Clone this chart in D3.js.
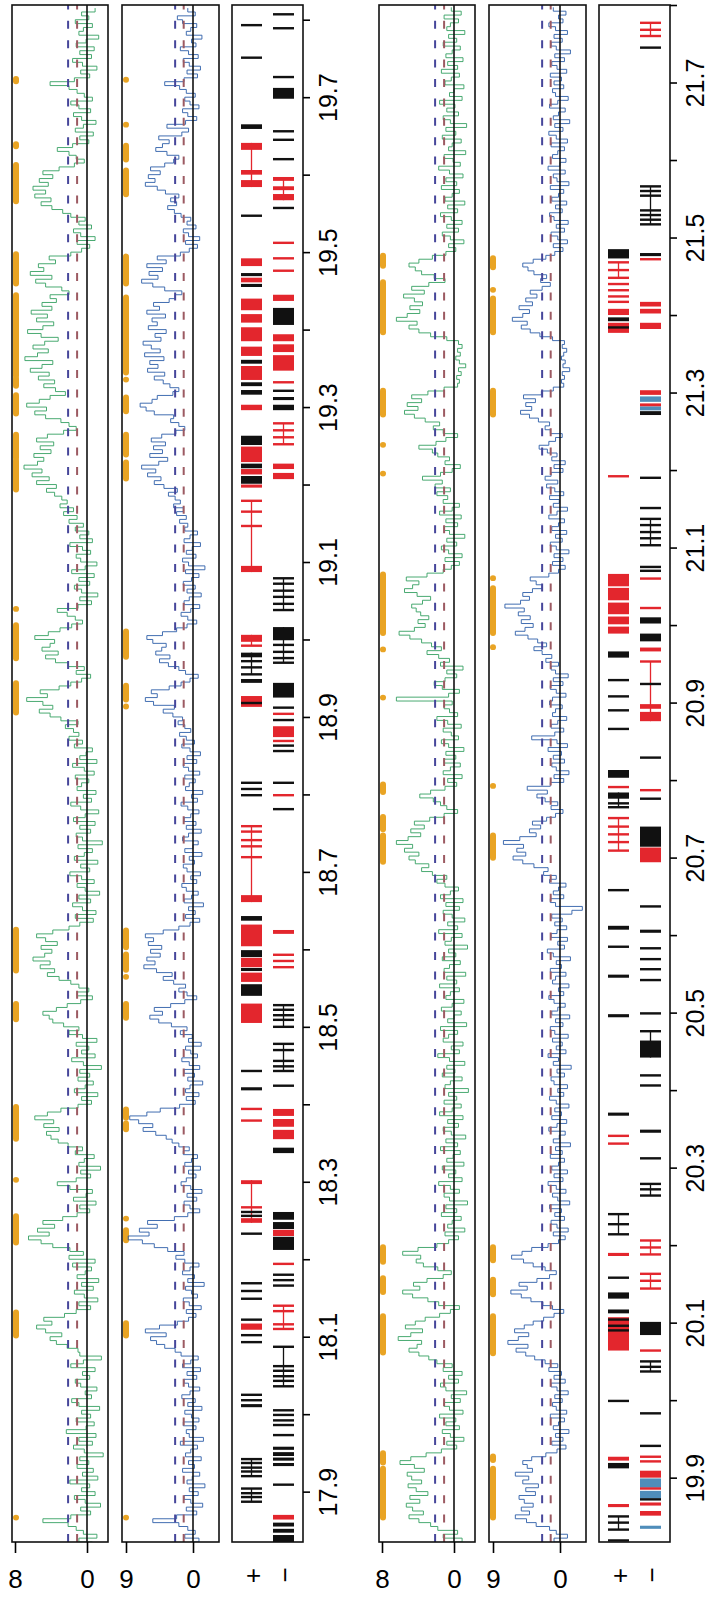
<!DOCTYPE html>
<html>
<head>
<meta charset="utf-8">
<script src="https://cdn.jsdelivr.net/npm/d3@7"></script>
<style>
  body { margin: 0; background: #fff; }
  text { font-family: "Liberation Sans", Arial, sans-serif; }
</style>
</head>
<body>
<svg id="chart" width="710" height="1599"></svg>
<script>
// ---- data ----
var step = 0.005;                       // Mb between trace samples
var leftDomain = [17.835, 19.819];
var rightDomain = [19.817, 21.800];

var tickPosLeft = [17.9, 18.0, 18.1, 18.2, 18.3, 18.4, 18.5, 18.6, 18.7, 18.8, 18.9, 19.0, 19.1, 19.2, 19.3, 19.4, 19.5, 19.6, 19.7, 19.8];
var tickLabLeft = [17.9, 18.1, 18.3, 18.5, 18.7, 18.9, 19.1, 19.3, 19.5, 19.7];
var tickPosRight = [19.9, 20.0, 20.1, 20.2, 20.3, 20.4, 20.5, 20.6, 20.7, 20.8, 20.9, 21.0, 21.1, 21.2, 21.3, 21.4, 21.5, 21.6, 21.7, 21.8];
var tickLabRight = [19.9, 20.1, 20.3, 20.5, 20.7, 20.9, 21.1, 21.3, 21.5, 21.7];

var greenTicks = [8, 0], blueTicks = [9, 0];
var greenCuts = [2.1, 1.1], blueCuts = [2.4, 1.25];

var greenLeft = [-0.6,0.9,-1.1,0.4,1.2,2.1,4.9,1.8,-0.4,0.7,-1.5,0.2,1.4,-0.9,0.6,-0.3,1.9,-1.2,0.5,-0.7,
 1.1,-0.2,0.8,-1.8,0.3,1.5,-0.6,0.9,-1.0,2.3,0.1,-0.8,1.2,-0.4,0.6,-1.4,0.9,1.7,-0.5,0.2,
 -1.1,0.7,1.3,-0.3,0.5,-0.9,1.8,0.4,-1.6,0.8,1.0,2.2,3.4,4.1,2.8,4.6,5.6,3.9,4.8,2.5,
 1.2,-0.4,0.9,-1.2,0.3,1.4,-0.7,0.6,-1.3,1.1,0.2,-0.5,1.6,-0.9,2.0,0.4,1.9,3.8,5.1,6.5,
 4.2,5.5,3.6,4.9,2.7,1.1,-0.3,0.8,-1.0,1.5,0.1,-0.6,1.9,3.3,1.2,-0.4,0.7,-1.5,0.9,0.3,
 -0.8,1.3,0.5,2.1,3.2,4.0,4.5,3.1,4.8,3.7,5.8,4.4,2.9,1.0,-0.5,0.6,-1.2,1.4,0.2,-0.7,
 1.0,-0.3,0.8,-1.6,0.4,1.7,-0.9,0.6,-0.2,1.2,-1.1,0.5,2.0,0.9,2.6,3.8,4.2,4.9,3.4,2.2,
 0.7,-0.6,1.1,-0.2,0.9,1.8,3.1,4.4,3.6,5.2,4.1,6.0,4.7,3.9,5.1,3.3,4.6,5.6,3.8,2.0,
 0.8,-0.7,1.3,-1.0,0.5,1.6,-0.4,0.9,-1.4,0.2,1.1,-0.8,0.6,1.9,-0.3,0.7,-1.2,1.4,0.3,-0.6,
 1.0,-1.7,0.5,1.2,-0.4,0.8,-0.9,1.5,0.2,-1.3,0.7,1.8,-0.5,0.4,-1.0,1.1,0.6,-0.2,1.3,-0.8,
 0.3,1.6,-1.1,0.8,0.1,-0.6,1.4,0.5,2.0,0.9,1.5,2.4,1.0,2.9,4.1,5.3,3.8,4.9,6.7,4.4,
 5.2,3.1,1.8,0.6,-0.4,1.2,0.3,2.1,3.5,4.6,3.2,5.0,4.1,3.6,5.8,4.3,3.0,1.7,0.5,1.3,
 2.2,3.3,1.0,-0.5,0.8,-1.2,0.6,1.4,-0.3,0.9,-0.8,1.7,0.2,-1.1,0.7,1.2,-0.4,0.5,1.9,-0.6,
 0.8,-0.2,1.3,0.4,2.0,1.1,2.6,1.5,3.0,2.2,2.8,3.6,4.5,3.4,5.6,4.2,6.1,5.0,7.0,5.5,
 4.8,5.9,4.0,5.2,3.7,5.6,4.4,2.6,1.2,2.0,2.9,4.6,5.8,4.5,6.7,5.3,4.1,2.4,3.5,4.8,
 3.6,5.4,4.2,6.3,5.0,3.8,6.9,5.5,4.3,6.0,4.7,3.2,5.1,6.6,4.9,3.7,5.6,4.4,6.2,3.9,
 5.0,3.4,4.1,2.0,2.8,4.6,5.7,3.9,6.3,4.8,5.4,3.5,4.2,1.8,0.6,-0.3,1.1,-0.9,0.7,1.5,
 -0.5,0.9,0.2,1.8,2.7,3.9,5.1,4.0,5.8,4.6,6.0,4.3,5.3,3.8,4.9,3.1,1.4,0.3,1.2,2.0,
 3.3,1.6,-0.2,0.8,-0.7,1.3,0.4,-1.0,0.6,1.5,-0.4,0.9,1.8,-0.6,0.3,1.1,2.0,4.1,1.4,-0.3,
 0.7,-1.1,0.5,1.6,-0.5,0.8,-0.8,1.2,0.1,-1.3,0.9,0.4,-0.6,1.3,-0.2,0.6,-0.9];

var blueLeft = [0.4,-0.8,1.1,-0.3,0.7,1.9,5.4,2.2,-0.5,0.9,-1.3,0.3,1.2,-0.7,0.5,-1.6,0.8,0.1,-0.9,1.4,
 -0.2,0.6,-1.1,1.0,0.3,-0.6,1.7,-1.4,0.5,0.9,-0.4,1.3,-0.8,0.2,1.1,-1.2,0.7,-0.3,1.5,0.4,
 -0.9,0.6,1.2,-0.5,0.8,-1.0,1.4,0.3,-0.7,1.6,2.4,3.8,4.9,5.7,3.6,6.4,4.5,2.1,0.6,-0.4,
 0.9,-1.1,0.5,1.3,-0.6,0.2,1.0,-1.5,0.7,-0.2,1.4,0.4,-0.8,1.1,2.3,1.2,3.4,5.2,6.8,8.7,
 5.9,7.2,4.8,6.1,2.5,0.7,-0.9,0.4,1.2,-0.5,0.8,-1.2,0.3,1.6,0.9,-0.4,0.6,-1.0,1.1,0.2,
 -0.6,1.3,0.5,1.9,2.8,3.6,5.0,6.7,5.4,7.3,8.5,6.2,4.4,1.8,-0.3,0.9,-0.8,1.0,0.4,-1.3,
 0.7,-0.2,1.2,-0.9,0.5,1.5,-0.6,0.3,1.0,-1.1,0.6,0.1,1.7,0.8,2.9,4.6,5.8,4.1,5.2,3.0,
 1.1,-0.5,0.8,1.9,1.0,2.6,4.0,2.8,4.9,6.6,5.1,6.2,4.4,5.7,4.2,6.0,5.3,6.4,4.0,1.9,
 0.4,-0.9,1.0,-0.3,0.6,-1.4,1.2,0.2,-0.7,0.9,1.5,-0.5,0.3,-1.0,0.8,1.3,-0.2,0.5,-1.2,1.1,
 0.0,-0.7,1.4,0.6,-1.1,0.9,-0.4,1.2,0.3,-0.8,0.7,1.6,-0.6,0.2,-1.3,1.0,0.5,-0.3,1.1,-0.9,
 0.6,1.3,-0.5,0.8,-1.0,0.4,1.5,-0.2,0.9,1.8,0.3,1.1,2.0,1.4,2.7,4.0,2.5,5.3,6.4,4.8,
 5.6,3.2,1.6,0.4,-0.7,1.0,1.9,3.3,4.5,3.1,5.0,4.2,3.6,5.4,6.2,4.1,2.2,0.8,-0.5,0.7,
 1.6,0.3,-0.9,1.2,0.5,-1.1,0.8,-0.3,1.3,0.2,-0.8,1.0,-1.6,0.6,1.4,-0.4,0.9,0.1,-1.0,1.2,
 0.4,-0.6,1.1,0.7,1.8,0.9,2.2,1.3,2.6,1.7,2.4,3.3,2.1,3.9,5.2,4.3,6.1,5.0,6.9,4.6,
 3.4,5.8,4.1,5.3,3.7,5.6,4.2,2.3,1.1,1.9,3.0,2.6,5.2,6.3,7.1,5.5,4.8,2.7,1.9,3.1,
 4.0,5.2,3.8,6.1,4.7,5.8,3.9,6.5,4.4,5.6,6.7,4.3,5.1,3.6,6.0,4.8,5.5,3.7,6.2,4.5,
 5.3,3.2,2.4,1.5,3.8,5.4,6.9,4.7,5.9,4.1,6.2,3.6,4.8,1.7,0.5,-0.6,1.0,-0.9,0.6,1.3,
 -0.4,0.8,0.3,1.6,2.5,3.4,2.2,3.0,1.9,3.7,4.8,6.4,5.1,6.0,4.4,5.7,3.8,2.6,1.9,3.5,
 5.0,4.1,3.2,4.6,1.5,0.6,3.5,1.0,-0.5,0.7,1.4,-0.8,0.4,1.1,-0.3,0.9,1.8,3.8,1.2,-0.6,
 0.8,-1.0,0.5,1.3,-0.7,0.6,1.7,-0.4,0.2,-1.2,0.9,0.3,-0.5,1.4,2.1,-0.3,0.7];

var greenRight = [0.5,-0.9,1.2,-0.4,1.8,2.6,3.9,5.0,3.4,4.6,5.3,3.8,4.9,2.9,4.2,5.1,3.6,4.7,5.2,3.3,
 4.4,6.0,4.8,3.1,1.4,-0.3,0.8,-1.1,0.4,1.3,-0.6,0.9,-0.2,1.6,-1.0,0.5,1.1,-0.7,0.3,-1.4,
 0.9,1.5,-0.5,0.6,-0.9,1.2,0.2,1.9,2.8,3.9,5.0,4.1,3.6,6.2,4.8,3.5,5.4,4.3,3.2,1.6,
 0.4,-0.6,1.7,2.9,4.6,5.7,3.8,4.5,3.0,1.2,0.3,1.8,3.4,4.2,3.7,5.7,4.0,1.9,0.6,-0.5,
 1.0,-1.2,0.7,0.2,-0.8,1.4,-0.3,0.9,-1.5,0.5,1.1,-0.6,0.4,1.7,-0.9,0.6,-0.2,1.3,-1.1,0.8,
 0.1,-0.7,1.5,-0.4,0.9,-1.3,0.3,1.2,-0.5,0.7,-1.0,1.6,0.2,-0.8,1.1,-0.3,0.6,-1.6,1.0,0.4,
 -0.9,1.3,-0.1,0.8,-1.2,0.5,1.8,-0.6,0.3,-1.0,1.2,0.6,-0.4,1.5,-1.4,0.7,0.0,-0.8,1.4,0.2,
 -1.1,0.9,0.4,-0.6,1.6,-0.3,0.8,-1.3,1.1,0.5,-0.7,1.3,-0.2,0.6,-1.5,1.0,0.3,-0.9,1.7,-0.4,
 0.7,-1.2,0.2,1.2,-0.6,0.9,-1.0,1.5,0.4,-0.5,1.0,1.9,0.8,2.4,3.6,2.8,4.3,5.0,3.9,5.5,
 4.6,6.4,5.1,3.7,4.8,3.3,4.4,2.7,1.1,-0.4,0.8,1.5,2.3,3.8,2.6,1.0,-0.3,0.7,-0.9,1.2,
 0.4,-0.7,1.1,-0.2,0.9,-1.1,0.6,1.4,-0.5,0.3,1.2,-0.8,0.7,1.9,-0.4,0.5,1.1,0.2,6.4,0.6,
 -0.6,1.3,2.2,1.0,-0.3,0.8,-1.0,1.5,0.5,1.7,3.0,1.4,2.5,3.6,4.9,6.1,4.4,3.2,4.0,2.8,
 3.7,4.2,4.7,3.5,2.6,4.1,5.5,4.6,3.9,5.3,3.0,1.2,0.3,-0.6,1.0,-0.9,0.6,1.4,-0.3,0.8,
 -1.2,0.5,1.1,-0.4,0.9,-0.8,1.6,0.2,-0.6,1.2,0.7,1.9,0.4,2.1,1.3,3.5,1.5,0.2,-0.7,1.0,
 0.5,1.8,2.4,3.9,2.0,0.9,-0.4,1.2,2.3,1.6,3.2,4.4,5.5,4.0,5.2,3.6,4.7,2.9,1.1,-0.4,
 -0.6,-0.3,-0.8,-0.5,-1.3,-0.6,-0.2,-0.7,-0.4,-0.9,-0.5,0.8,2.6,3.9,5.0,4.1,6.4,5.2,3.8,4.9,
 3.5,4.4,5.6,3.3,4.7,2.8,1.0,2.2,3.6,4.3,5.0,3.9,2.4,0.9,-0.2,0.6,-1.1,0.4,1.3,-0.5,
 0.8,-0.9,0.3,1.5,-0.4,0.7,-1.2,1.0,0.2,-0.6,1.4,-0.3,0.9,-1.0,0.5,1.7,-0.7,0.1,1.1,-1.3,
 0.6,0.2,-0.8,1.3,-0.2,0.9,-1.4,0.4,1.2,-0.5,0.8,-0.1,1.6,-0.9,0.5,0.0,-1.1,1.0,0.3,-0.6,
 1.4,-0.4,0.7,-1.0,0.9,0.2,-0.7,1.2,-0.3,0.6,-1.2,0.8,0.4,-0.5,1.1,-0.8,0.3];

var blueRight = [-0.3,0.8,-1.0,0.5,1.4,3.2,4.5,6.0,4.1,5.2,3.6,4.8,5.5,3.3,4.6,2.9,5.0,4.2,6.0,3.7,
 4.4,5.0,3.8,1.9,0.4,-0.8,1.1,-0.4,0.6,-1.2,0.9,0.2,-0.6,1.3,-0.9,0.5,1.0,-0.3,0.7,-1.1,
 0.4,1.2,-0.7,0.8,-0.2,1.5,0.3,2.0,3.4,4.6,5.9,4.3,7.0,5.6,4.2,6.1,4.8,3.6,2.2,0.8,
 -0.5,1.0,2.3,3.9,5.2,6.6,4.4,5.5,3.1,1.4,0.5,2.0,3.6,4.9,6.5,5.1,3.8,1.6,0.2,-0.7,
 0.9,-1.1,0.4,1.2,-0.6,0.7,-0.2,1.4,-1.3,0.3,1.0,-0.8,0.5,1.6,-0.4,0.8,-1.0,1.1,0.2,-0.6,
 1.3,-0.3,0.6,-1.4,0.9,0.1,-0.7,1.5,0.4,-0.9,1.1,-0.2,0.7,-1.2,0.5,1.4,-0.5,0.3,-1.0,0.8,
 1.2,-0.6,0.4,-1.5,0.9,0.2,1.6,-0.8,0.5,-0.3,1.0,-1.1,0.7,1.3,-0.4,0.6,-1.3,1.1,0.3,-0.7,
 0.8,1.5,-0.5,0.2,-1.2,1.0,0.6,-0.8,1.3,-0.2,0.5,-1.4,0.9,1.7,-0.6,0.3,-1.0,1.2,0.4,-0.9,
 0.7,-0.3,1.1,-1.6,-3.0,0.6,1.3,-0.5,0.9,0.2,-0.8,1.4,0.5,2.2,1.6,3.5,5.0,6.3,4.6,5.8,
 4.9,7.6,5.4,3.2,4.1,2.6,3.7,1.8,0.6,-0.4,1.2,0.3,2.0,3.1,1.7,4.4,1.3,-0.5,0.8,-1.2,
 0.5,1.1,-0.6,0.9,-0.2,1.6,-1.0,0.4,3.8,0.7,-0.5,1.2,0.3,-0.9,1.0,0.6,-0.3,1.4,1.0,-0.8,
 0.5,1.3,-0.4,0.9,-1.1,0.6,1.2,0.2,1.9,1.1,2.4,3.5,1.8,3.0,4.3,6.0,4.7,3.6,5.2,4.0,
 5.6,4.8,7.4,5.3,4.1,5.0,3.7,2.4,3.2,4.0,1.5,0.2,-0.7,1.0,-0.4,0.8,-1.2,0.5,1.3,-0.3,
 0.6,-0.9,1.1,0.2,-0.6,1.5,0.4,-1.0,0.9,0.1,1.4,-0.5,0.7,1.8,0.3,2.0,1.2,-0.4,0.8,-0.7,
 1.1,0.4,1.7,2.8,1.5,0.6,-0.3,1.3,2.0,1.4,2.9,4.1,5.3,3.8,4.6,3.3,4.9,2.5,0.9,-0.5,
 -0.2,-0.6,-0.3,-1.3,-0.4,-0.7,-0.2,-0.5,-0.9,-0.3,-0.6,1.0,2.7,4.0,5.2,4.4,6.4,5.0,4.1,5.5,
 3.7,4.6,3.1,4.0,2.4,1.3,2.6,1.8,3.5,4.3,5.0,3.6,1.9,0.7,-0.4,0.9,-1.0,0.3,1.2,-0.6,
 0.5,-1.1,0.8,1.4,-0.3,0.6,-0.9,1.1,0.2,-0.5,1.3,-1.2,0.4,0.9,-0.7,1.6,0.0,-0.8,1.0,0.3,
 -0.6,1.2,-1.0,0.5,1.5,-0.4,0.7,-1.3,0.9,0.2,-0.7,1.4,0.3,-1.1,0.6,1.0,-0.5,0.8,-0.2,1.3,
 -0.9,0.4,1.1,-0.6,0.7,-1.4,0.5,1.2,-0.3,0.8,-1.0,0.6,1.5,-0.4,0.2,-0.8,0.9];

// significant stretches (Mb), one list per trace
var sigGreenLeft = [[19.720,19.724],[19.636,19.640],[19.565,19.613],[19.459,19.498],[19.340,19.445],[19.327,19.338],
 [19.291,19.316],[19.234,19.265],[19.193,19.232],[19.039,19.040],[18.975,19.019],[18.905,18.944],[18.572,18.626],
 [18.509,18.530],[18.355,18.397],[18.302,18.303],[18.221,18.256],[18.101,18.132],[17.866,17.867]];
var sigBlueLeft = [[19.722,19.723],[19.664,19.665],[19.619,19.638],[19.574,19.606],[19.459,19.495],[19.344,19.442],
 [19.335,19.336],[19.294,19.313],[19.238,19.265],[19.207,19.229],[18.977,19.011],[18.922,18.941],[18.913,18.914],
 [18.602,18.625],[18.573,18.594],[18.564,18.565],[18.511,18.530],[18.382,18.394],[18.367,18.376],[18.252,18.253],
 [18.224,18.238],[18.101,18.118],[17.866,17.867]];
var sigGreenRight = [[21.463,21.477],[21.377,21.443],[21.271,21.303],[21.232,21.233],[21.195,21.196],[20.989,21.066],
 [20.968,20.969],[20.906,20.907],[20.784,20.795],[20.736,20.753],[20.694,20.729],[20.178,20.198],[20.139,20.158],
 [20.061,20.109],[19.919,19.932],[19.848,19.912]];
var sigBlueRight = [[21.461,21.474],[21.432,21.433],[21.377,21.422],[21.271,21.303],[21.060,21.061],[20.989,21.048],
 [20.971,20.972],[20.792,20.793],[20.699,20.729],[20.180,20.198],[20.136,20.156],[20.060,20.109],[19.922,19.928],
 [19.848,19.912]];

// genes: [strand, colour, exons]; an exon is a position (thin bar) or [start, end]
var genesLeft = [
 ["+","k",[19.793]],["+","k",[19.751]],["+","k",[[19.659,19.665]]],
 ["+","r",[[19.632,19.641],[19.600,19.606],[19.584,19.593]]],
 ["+","k",[19.547]],["+","r",[[19.482,19.492]]],["+","k",[[19.469,19.473]]],["+","r",[[19.461,19.467]]],
 ["+","k",[[19.455,19.459]]],["+","r",[[19.425,19.440]]],["+","r",[[19.409,19.420]]],["+","r",[[19.385,19.403]]],
 ["+","r",[[19.366,19.378]]],["+","k",[[19.356,19.361]]],["+","r",[[19.335,19.353]]],["+","k",[[19.327,19.332]]],
 ["+","k",[[19.316,19.322]]],["+","r",[[19.296,19.303]]],
 ["+","k",[[19.251,19.263]]],["+","r",[[19.229,19.249]]],["+","k",[[19.221,19.227]]],["+","r",[[19.213,19.220]]],
 ["+","k",[[19.201,19.211]]],["+","r",[[19.196,19.200]]],
 ["+","r",[19.179,19.165,[19.145,19.148],[19.087,19.095]]],
 ["+","r",[[18.997,19.006],18.992]],["+","k",[[18.977,18.983],18.972,18.964,18.955]],["+","k",[[18.944,18.949]]],
 ["+","r",[[18.913,18.927]]],["+","k",[18.918]],
 ["+","k",[18.815]],["+","k",[18.807]],["+","k",[18.799]],
 ["+","r",[18.759,18.752,18.741,18.733,18.719,[18.661,18.670]]],
 ["+","k",[[18.637,18.643]]],["+","r",[[18.604,18.632]]],["+","k",[[18.590,18.599]]],["+","r",[[18.577,18.589]]],
 ["+","k",[[18.572,18.576]]],["+","r",[[18.558,18.570]]],["+","k",[[18.540,18.555]]],["+","r",[[18.505,18.530]]],
 ["+","k",[18.443]],["+","k",[[18.418,18.422]]],["+","r",[18.394]],["+","r",[18.379]],
 ["+","r",[[18.297,18.302],18.267,[18.247,18.253]]],["+","k",[18.261]],["+","k",[18.256]],["+","k",[18.233]],
 ["+","k",[18.169]],["+","k",[18.159]],["+","k",[18.149]],
 ["+","k",[18.122]],["+","r",[[18.109,18.117]]],["+","k",[18.102]],["+","k",[18.093]],
 ["+","k",[18.025]],["+","k",[18.018]],["+","k",[[18.009,18.013]]],
 ["+","k",[17.942,17.937,17.931,17.926,17.920]],
 ["+","k",[17.904,17.898,17.893,17.887]],
 ["-","k",[19.807]],["-","k",[19.789]],["-","k",[19.726]],["-","k",[[19.698,19.712]]],
 ["-","k",[19.656]],["-","k",[19.645]],["-","k",[19.620]],
 ["-","r",[[19.592,19.597],[19.580,19.585],[19.567,19.575]]],
 ["-","k",[19.557]],["-","r",[19.512]],["-","r",[19.492]],["-","r",[19.476]],
 ["-","r",[[19.437,19.445]]],["-","k",[[19.406,19.428]]],["-","r",[[19.385,19.394]]],["-","r",[[19.371,19.381]]],
 ["-","r",[[19.347,19.367]]],["-","r",[19.332]],
 ["-","k",[[19.320,19.322]]],["-","k",[[19.309,19.313]]],["-","k",[[19.296,19.303]]],
 ["-","r",[19.279,19.270,19.261,19.252]],["-","r",[[19.220,19.227]]],["-","r",[[19.207,19.215]]],
 ["-","k",[19.079,19.072,19.063,19.055,19.046,19.038]],
 ["-","k",[[18.999,19.016],18.993,18.984,18.976,18.970]],
 ["-","k",[[18.925,18.944]]],["-","k",[18.912]],["-","r",[18.904]],["-","k",[18.896]],["-","r",[[18.874,18.888]]],
 ["-","r",[18.869]],["-","k",[18.863]],["-","k",[18.856]],
 ["-","k",[18.815]],["-","r",[18.799]],["-","k",[18.781]],
 ["-","r",[[18.620,18.625]]],["-","r",[18.593]],["-","r",[18.585]],["-","r",[18.577]],
 ["-","k",[18.528,18.522,18.515,18.509,18.500]],
 ["-","k",[18.478,18.470,18.456,18.449,18.443]],
 ["-","k",[18.424]],
 ["-","r",[[18.385,18.394]]],["-","r",[[18.371,18.381]]],["-","r",[[18.355,18.367]]],["-","k",[[18.337,18.344]]],
 ["-","k",[[18.251,18.261]]],["-","k",[[18.239,18.248]]],["-","r",[[18.230,18.238]]],["-","k",[[18.212,18.229]]],
 ["-","r",[18.194]],["-","k",[18.180]],["-","k",[18.173]],["-","k",[18.166]],
 ["-","r",[18.140,18.133,18.116,18.110]],
 ["-","k",[18.087,18.062,18.056,18.049,18.043,18.036]],
 ["-","k",[18.005]],["-","k",[17.999]],["-","k",[17.992]],["-","k",[17.986]],["-","k",[17.973]],
 ["-","k",[[17.954,17.958]]],["-","k",[[17.946,17.951]]],["-","k",[[17.940,17.944]]],["-","k",[[17.933,17.937]]],
 ["-","k",[17.909]],["-","r",[[17.864,17.870]]],
 ["-","k",[[17.855,17.860]]],["-","k",[[17.847,17.852]]],["-","k",[[17.835,17.844]]]
];

var genesRight = [
 ["+","k",[[21.473,21.485]]],["+","r",[21.468,21.458,21.448]],
 ["+","r",[21.440]],["+","r",[21.432]],["+","r",[21.424]],["+","r",[21.417]],
 ["+","r",[[21.400,21.408]]],["+","k",[[21.392,21.397]]],["+","r",[[21.377,21.390]]],["+","k",[21.384]],
 ["+","r",[21.192]],
 ["+","r",[[21.050,21.066]]],["+","r",[[21.032,21.048]]],["+","r",[[21.014,21.029]]],["+","r",[[21.001,21.011]]],
 ["+","r",[[20.989,20.998]]],
 ["+","k",[[20.958,20.966]]],["+","k",[20.929]],["+","k",[20.908]],["+","k",[20.890]],["+","k",[20.866]],
 ["+","k",[[20.803,20.813]]],["+","r",[20.791]],["+","k",[[20.776,20.784],20.770,20.765]],
 ["+","r",[20.751,20.740,20.730,20.720,20.709]],
 ["+","k",[20.658]],["+","k",[[20.607,20.612]]],["+","k",[20.585]],["+","k",[[20.545,20.549]]],
 ["+","k",[[20.494,20.498]]],["+","k",[[20.367,20.371]]],["+","r",[20.341]],["+","r",[20.331]],
 ["+","k",[20.240,20.227,20.214]],["+","r",[[20.186,20.190]]],
 ["+","k",[20.158]],["+","k",[[20.131,20.139]]],["+","k",[[20.112,20.117]]],["+","r",[[20.064,20.107]]],
 ["+","k",[20.104]],["+","k",[20.096]],["+","k",[20.090]],
 ["+","k",[19.999]],["+","r",[[19.922,19.927]]],["+","k",[[19.912,19.919]]],["+","r",[[19.862,19.866]]],
 ["+","k",[19.850,19.842,19.833]],["+","k",[19.819]],
 ["-","r",[21.777,21.768,21.760]],["-","k",[21.745]],
 ["-","k",[21.566,21.560,21.554,21.535,21.529,21.523,21.517]],
 ["-","k",[[21.476,21.480]]],["-","r",[21.472]],
 ["-","r",[[21.411,21.417]]],["-","r",[[21.402,21.408]]],["-","r",[[21.382,21.390]]],
 ["-","r",[[21.297,21.303]]],["-","b",[[21.288,21.295]]],["-","r",[[21.282,21.286]]],["-","b",[[21.277,21.282]]],
 ["-","k",[[21.271,21.276]]],
 ["-","k",[21.190]],["-","k",[21.151]],["-","k",[21.137,21.129,21.120,21.112,21.103]],
 ["-","k",[21.075]],["-","k",[21.070]],["-","r",[21.060]],["-","r",[21.022]],
 ["-","k",[[21.002,21.010]]],["-","k",[[20.979,20.989]]],["-","r",[[20.966,20.971]]],
 ["-","r",[20.953,[20.892,20.898],[20.876,20.888]]],["-","k",[20.924]],
 ["-","k",[20.829]],["-","r",[20.787]],["-","k",[20.776]],
 ["-","k",[[20.714,20.740]]],["-","r",[[20.694,20.713]]],
 ["-","k",[20.637]],["-","k",[[20.603,20.607]]],["-","k",[20.583]],["-","k",[20.569]],["-","k",[20.556]],
 ["-","k",[20.542]],["-","k",[20.499]],["-","k",[20.476,[20.442,20.464]]],
 ["-","k",[20.419]],["-","k",[20.406]],["-","k",[[20.345,20.349]]],["-","k",[20.312]],
 ["-","k",[20.279,20.272,20.264]],["-","r",[20.206,20.197,20.188]],["-","r",[20.163,20.154,20.144]],
 ["-","k",[[20.084,20.101]]],["-","r",[20.064]],["-","k",[20.050,20.043,20.037]],
 ["-","k",[19.983]],["-","k",[19.941]],["-","r",[19.927]],["-","r",[19.921]],
 ["-","r",[[19.900,19.909]]],["-","b",[[19.887,19.899]]],["-","r",[19.886]],["-","b",[[19.873,19.883]]],
 ["-","k",[19.872]],["-","r",[[19.864,19.868]]],["-","r",[[19.851,19.857]]],["-","b",[[19.834,19.838]]]
];

// ---- drawing ----
var svg = d3.select("#chart");
var yTop = 5, yBottom = 1542;
var clipN = 0;
var fontFam = "'Liberation Sans', Arial, sans-serif";
var geneColor = {r: "#e3262d", k: "#111111", b: "#4f8dba"};

function tracePanel(y, p) {
    var x = d3.scaleLinear().domain([p.max, 0]).range([p.x0 + p.pad, p.x0 + p.zero]);
    var id = "clip" + (clipN++);
    svg.append("clipPath").attr("id", id)
        .append("rect").attr("x", p.x0).attr("y", yTop).attr("width", p.w).attr("height", yBottom - yTop);
    var g = svg.append("g").attr("clip-path", "url(#" + id + ")");

    // significant regions along the left edge
    g.selectAll("rect.sig")
        .data(p.sig)
        .enter().append("rect")
        .attr("class", "sig")
        .attr("x", p.x0 + 1)
        .attr("width", 6)
        .attr("rx", 3)
        .attr("y", function (d) { return y(d[1]) - 2.5; })
        .attr("height", function (d) { return y(d[0]) - y(d[1]) + 5; })
        .attr("fill", "#e9a424");

    // step trace: each sample is a horizontal jump to its value
    var line = d3.line()
        .curve(d3.curveStepAfter)
        .x(function (d) { return x(d); })
        .y(function (d, i) { return y(p.start + i * step); });

    g.append("path")
        .datum(p.data)
        .attr("d", line)
        .attr("fill", "none")
        .attr("stroke", p.color)
        .attr("stroke-width", 0.9);

    // thresholds
    g.selectAll("line.cut")
        .data(p.cuts)
        .enter().append("line")
        .attr("class", "cut")
        .attr("x1", function (d) { return x(d); })
        .attr("x2", function (d) { return x(d); })
        .attr("y1", yBottom)
        .attr("y2", yTop)
        .attr("stroke", function (d, i) { return i === 0 ? "#46469a" : "#9c5a62"; })
        .attr("stroke-width", 2)
        .attr("stroke-dasharray", "8,11.4");

    g.append("line")
        .attr("x1", x(0)).attr("x2", x(0))
        .attr("y1", yTop).attr("y2", yBottom)
        .attr("stroke", "#111").attr("stroke-width", 1.6);

    svg.append("rect")
        .attr("x", p.x0).attr("y", yTop).attr("width", p.w).attr("height", yBottom - yTop)
        .attr("fill", "none").attr("stroke", "#111").attr("stroke-width", 1.6);

    var ax = svg.append("g")
        .attr("transform", "translate(0," + yBottom + ")")
        .call(d3.axisBottom(x).tickValues(p.ticks).tickSize(11).tickPadding(17).tickFormat(d3.format("d")));
    ax.select(".domain").remove();
    ax.selectAll("line").attr("stroke-width", 1.6);
    ax.selectAll("text").attr("font-size", 26).attr("font-family", fontFam);
}

function genePanel(y, x0, genes, ticks, labels) {
    var laneX = {"+": x0 + 9, "-": x0 + 41}, laneW = 21;

    var gg = svg.append("g").selectAll("g")
        .data(genes)
        .enter().append("g")
        .attr("fill", function (d) { return geneColor[d[1]]; })
        .attr("stroke", function (d) { return geneColor[d[1]]; });

    gg.each(function (d) {
        var ex = d[2].map(function (e) { return Array.isArray(e) ? e : [e, e]; });
        var sel = d3.select(this);
        if (ex.length > 1) {
            var lo = d3.min(ex, function (e) { return e[0]; }),
                hi = d3.max(ex, function (e) { return e[1]; });
            sel.append("line")
                .attr("x1", laneX[d[0]] + laneW / 2).attr("x2", laneX[d[0]] + laneW / 2)
                .attr("y1", y(hi)).attr("y2", y(lo))
                .attr("stroke-width", 1.3);
        }
        sel.selectAll("rect")
            .data(ex)
            .enter().append("rect")
            .attr("x", laneX[d[0]])
            .attr("width", laneW)
            .attr("y", function (e) {
                var h = Math.max(2.4, y(e[0]) - y(e[1]));
                return (y(e[0]) + y(e[1])) / 2 - h / 2;
            })
            .attr("height", function (e) { return Math.max(2.4, y(e[0]) - y(e[1])); })
            .attr("stroke", "none");
    });

    svg.append("rect")
        .attr("x", x0).attr("y", yTop).attr("width", 71).attr("height", yBottom - yTop)
        .attr("fill", "none").attr("stroke", "#111").attr("stroke-width", 1.6);

    var ax = svg.append("g")
        .attr("transform", "translate(" + (x0 + 71) + ",0)")
        .call(d3.axisRight(y).tickValues(ticks).tickSize(7)
            .tickFormat(function (d) {
                return labels.some(function (l) { return Math.abs(l - d) < 1e-6; }) ? d.toFixed(1) : "";
            }));
    ax.select(".domain").remove();
    ax.selectAll("line").attr("stroke-width", 1.6);
    ax.selectAll("text")
        .attr("x", null)
        .attr("dy", "0.36em")
        .attr("text-anchor", "middle")
        .attr("transform", "translate(25,0) rotate(-90)")
        .attr("font-size", 25)
        .attr("font-family", fontFam);

    svg.append("text")
        .attr("x", laneX["+"] + laneW / 2 + 2).attr("y", 1575).attr("dy", "0.35em")
        .attr("text-anchor", "middle").attr("font-size", 26).text("+");
    svg.append("text")
        .attr("transform", "translate(" + (laneX["-"] + laneW / 2 + 2) + ",1575) rotate(-90)")
        .attr("dy", "0.32em")
        .attr("text-anchor", "middle").attr("font-size", 26).text("\u2212");
}

function drawGroup(o) {
    var y = d3.scaleLinear().domain(o.domain).range([yBottom, yTop]);
    tracePanel(y, {x0: o.x[0], w: 96, pad: 3, zero: 75, max: greenTicks[0], ticks: greenTicks,
        data: o.green, start: o.domain[0], color: "#35a062", sig: o.sigG, cuts: greenCuts});
    tracePanel(y, {x0: o.x[1], w: 97, pad: 4, zero: 71, max: blueTicks[0], ticks: blueTicks,
        data: o.blue, start: o.domain[0], color: "#2c5ea8", sig: o.sigB, cuts: blueCuts});
    genePanel(y, o.x[2], o.genes, o.ticks, o.labels);
}

drawGroup({x: [12, 122, 232], domain: leftDomain, green: greenLeft, blue: blueLeft,
    sigG: sigGreenLeft, sigB: sigBlueLeft, genes: genesLeft, ticks: tickPosLeft, labels: tickLabLeft});
drawGroup({x: [379, 489, 599], domain: rightDomain, green: greenRight, blue: blueRight,
    sigG: sigGreenRight, sigB: sigBlueRight, genes: genesRight, ticks: tickPosRight, labels: tickLabRight});
</script>
</body>
</html>
